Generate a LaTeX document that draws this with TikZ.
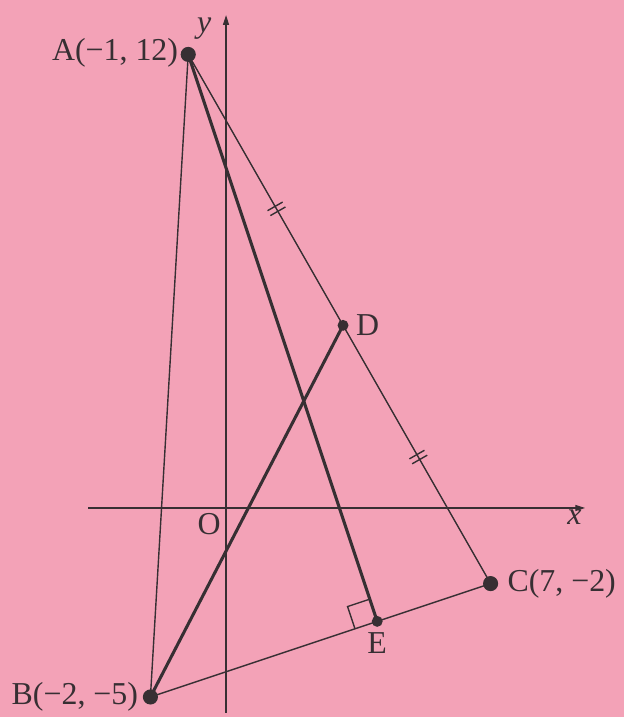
\documentclass[tikz,border=0pt]{standalone}
\usepackage{fontspec}
\setmainfont{Liberation Serif}
\usetikzlibrary{positioning, arrows.meta, calc}
\definecolor{pagepink}{RGB}{243,162,183}
\definecolor{ink}{RGB}{55,47,51}

\begin{document}
\begin{tikzpicture}[
  font=\fontsize{24}{28}\selectfont,
  thinln/.style={draw=ink, line width=1.05pt},
  thickln/.style={draw=ink, line width=2.3pt},
  axis/.style={draw=ink, line width=0.85pt, -{Triangle[length=2.6mm,width=1.6mm]}},
  bigdot/.style={circle, fill=ink, inner sep=0pt, minimum size=4mm},
  smalldot/.style={circle, fill=ink, inner sep=0pt, minimum size=2.9mm},
  lbl/.style={text=ink, inner sep=1pt},
  dbltick/.pic={\draw[thinln] (-0.075,-0.23) -- (-0.075,0.23) (0.075,-0.23) -- (0.075,0.23);}
]
\fill[pagepink] (-5.98,-5.53) rectangle (10.53,13.44);
\useasboundingbox (-5.98,-5.53) rectangle (10.53,13.44);
\coordinate (O) at (0,0);
\coordinate (xl) at (-3.65,0);
\coordinate (xr) at (9.5,0);
\coordinate (yb) at (0,-5.42);
\coordinate (yt) at (0,13.04);
\coordinate (A) at (-1,12);
\coordinate (B) at (-2,-5);
\coordinate (C) at (7,-2);
\coordinate (D) at ($(A)!0.512!(C)$);
\coordinate (E) at (4,-3);
\draw[axis] (xl) -- (xr);
\draw[axis] (yb) -- (yt);
\foreach \p/\q in {A/B, B/C}{
  \draw[thinln] (\p) -- (\q);}
\draw[thinln] (A) -- (D) pic[pos=0.57, sloped]{dbltick};
\draw[thinln] (D) -- (C) pic[pos=0.51, sloped]{dbltick};
\foreach \p/\q in {A/E, B/D}{
  \draw[thickln] (\p) -- (\q);}
\draw[thinln] let \p1=($(E)!0.62cm!(B)$), \p2=($(E)!0.62cm!(A)$), \p0=(E) in
  (\p1) -- (\x1+\x2-\x0,\y1+\y2-\y0) -- (\p2);
\foreach \p in {A, B, C}{
  \node[bigdot] (d\p) at (\p) {};}
\foreach \p in {D, E}{
  \node[smalldot] (d\p) at (\p) {};}
\node[lbl, left=0.02cm of dA, yshift=0.05cm] (la) {A(−1, 12)};
\node[lbl, left=0.08cm of dB] (lb) {B(−2, −5)};
\node[lbl, right=0.2cm of dC] (lc) {C(7, −2)};
\node[lbl, right=0.15cm of dD] (ld) {D};
\node[lbl, below=0.1cm of dE] (le) {E};
\node[lbl, below left=0.1cm and 0.1cm of O] (lo) {O};
\node[lbl, below left=0.02cm and 0.05cm of xr] (lx) {\textit{x}};
\node[lbl, left=0.35cm of yt, yshift=-0.35cm] (ly) {\textit{y}};
\end{tikzpicture}
\end{document}
